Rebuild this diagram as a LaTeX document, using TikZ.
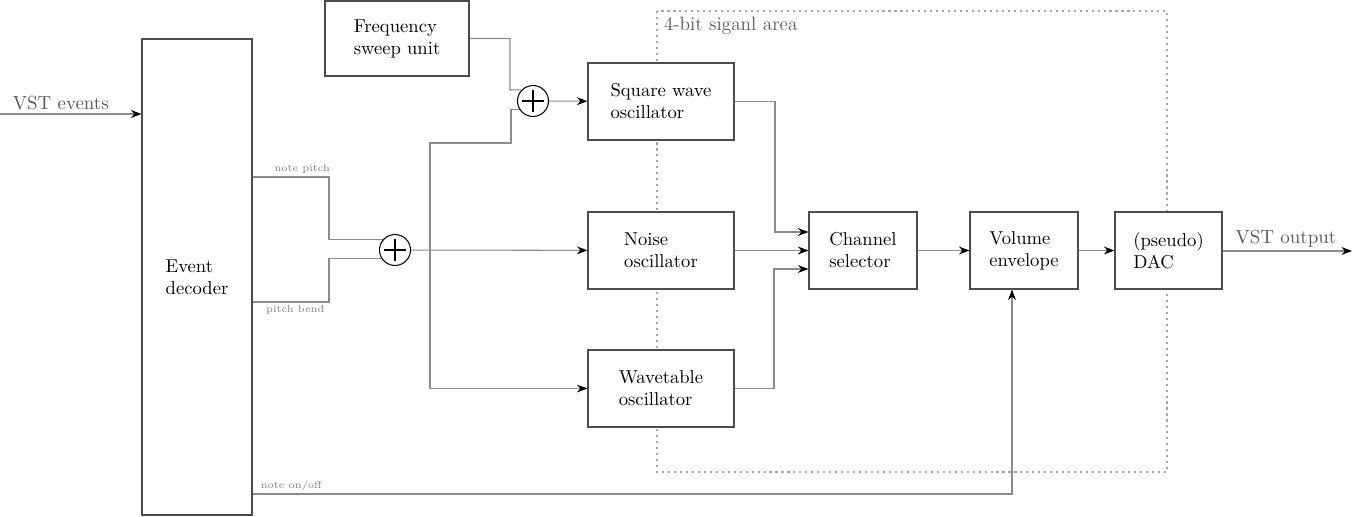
\documentclass[tikz,border=0pt]{standalone}
\usepackage{tikz}
\usetikzlibrary{arrows.meta}
\pgfdeclarelayer{edgelayer}
\pgfdeclarelayer{nodelayer}
\pgfsetlayers{edgelayer,nodelayer,main}
\definecolor{boxgray}{gray}{0.3}
\definecolor{linegray}{gray}{0.55}
\definecolor{areagray}{gray}{0.65}
\definecolor{textgray}{gray}{0.35}
\tikzstyle{none}=[inner sep=0pt]
\tikzstyle{block}=[rectangle,draw=boxgray,fill=white,line width=0.65pt,inner sep=0pt,align=left,text=black,font=\fontsize{10.6}{12.5}\selectfont,minimum height=1.54cm]
\tikzstyle{sum}=[circle,draw=black,fill=white,line width=0.6pt,inner sep=0pt,minimum size=0.62cm,path picture={\draw[black,line width=1pt] ([yshift=-2.6pt]path picture bounding box.north) -- ([yshift=2.6pt]path picture bounding box.south) ([xshift=2.6pt]path picture bounding box.west) -- ([xshift=-2.6pt]path picture bounding box.east);}]
\tikzstyle{link}=[-{Stealth[length=6pt,width=4.5pt,black]},draw=linegray,line width=0.6pt]
\tikzstyle{wire}=[-,draw=linegray,line width=0.6pt]
\tikzstyle{lbl}=[text=textgray,font=\fontsize{10.8}{13}\selectfont,inner sep=2pt]
\tikzstyle{tag}=[text=gray,font=\fontsize{5.8}{7}\selectfont,inner sep=1.5pt]
\tikzstyle{area}=[draw=areagray,line width=0.6pt,dash pattern=on 1.2pt off 2.2pt]
\begin{document}
\begin{tikzpicture}[x=0.02cm,y=-0.02cm]
	\useasboundingbox (0,0) rectangle (1352,517);
	\begin{pgfonlayer}{nodelayer}
		\node [style=block, minimum width=2.2cm, minimum height=9.52cm] (dec) at (197, 277) {Event\\decoder};
		\node [style=block, minimum width=2.88cm, minimum height=1.5cm] (freq) at (397, 38.5) {Frequency\\sweep unit};
		\node [style=block, minimum width=2.92cm] (sq) at (661, 101.5) {Square wave\\oscillator};
		\node [style=block, minimum width=2.92cm] (noise) at (661, 250.5) {Noise\\oscillator};
		\node [style=block, minimum width=2.92cm] (wave) at (661, 388.5) {Wavetable\\oscillator};
		\node [style=block, minimum width=2.16cm] (ch) at (863, 250.5) {Channel\\selector};
		\node [style=block, minimum width=2.16cm] (vol) at (1024, 250.5) {Volume\\envelope};
		\node [style=block, minimum width=2.14cm] (dac) at (1168.5, 250.5) {(pseudo)\\DAC};

		\node [style=sum] (sum1) at (533, 101) {};
		\node [style=sum] (sum2) at (395, 250) {};

		\coordinate (in) at (0, 114);
		\coordinate (out) at (1352, 251);
		\coordinate (fk) at (510, 90);
		\coordinate (npk) at (329, 177);
		\coordinate (pbk) at (329, 302);
		\coordinate (br) at (430, 250);
		\coordinate (tk) at (511, 143);
		\coordinate (chk1) at (775, 232);
		\coordinate (chk3) at (774, 269);
		\coordinate (onk) at (1012, 494);
	\end{pgfonlayer}
	\begin{pgfonlayer}{edgelayer}
		\draw [style=area] (657, 11) rectangle (1167, 472);
		\node [style=lbl, anchor=west, font=\fontsize{11}{13}\selectfont] (areatxt) at (660, 26) {4-bit siganl area};

		\draw [style=link] (in) -- node [style=lbl, above, pos=0.43] {VST events} (in -| dec.west);
		\draw [style=wire] (dec.east |- npk) -- node [style=tag, above, pos=0.65] {note pitch} (npk) |- (sum2.141);
		\draw [style=wire] (dec.east |- pbk) -- node [style=tag, below, pos=0.56] {pitch bend} (pbk) |- (sum2.214);
		\draw [style=link] (sum2) -- (noise);
		\draw [style=link] (br) |- (wave.west);
		\draw [style=wire] (br) |- (tk) |- (sum1.214);
		\draw [style=wire] (freq.east) -| (fk) -- (sum1.136);
		\draw [style=link] (sum1) -- (sq);
		\draw [style=link] (sq.east) -| (chk1) -- (chk1 -| ch.west);
		\draw [style=link] (noise) -- (ch);
		\draw [style=link] (wave.east) -| (chk3) -- (chk3 -| ch.west);
		\draw [style=link] (ch) -- (vol);
		\draw [style=link] (vol) -- (dac);
		\draw [style=link] (dac.east |- out) -- node [style=lbl, above, pos=0.49] {VST output} (out);
		\draw [style=link] (dec.east |- onk) -- node [style=tag, above, pos=0.051] {note on/off} (onk) -- (onk |- vol.south);
	\end{pgfonlayer}
\end{tikzpicture}
\end{document}
